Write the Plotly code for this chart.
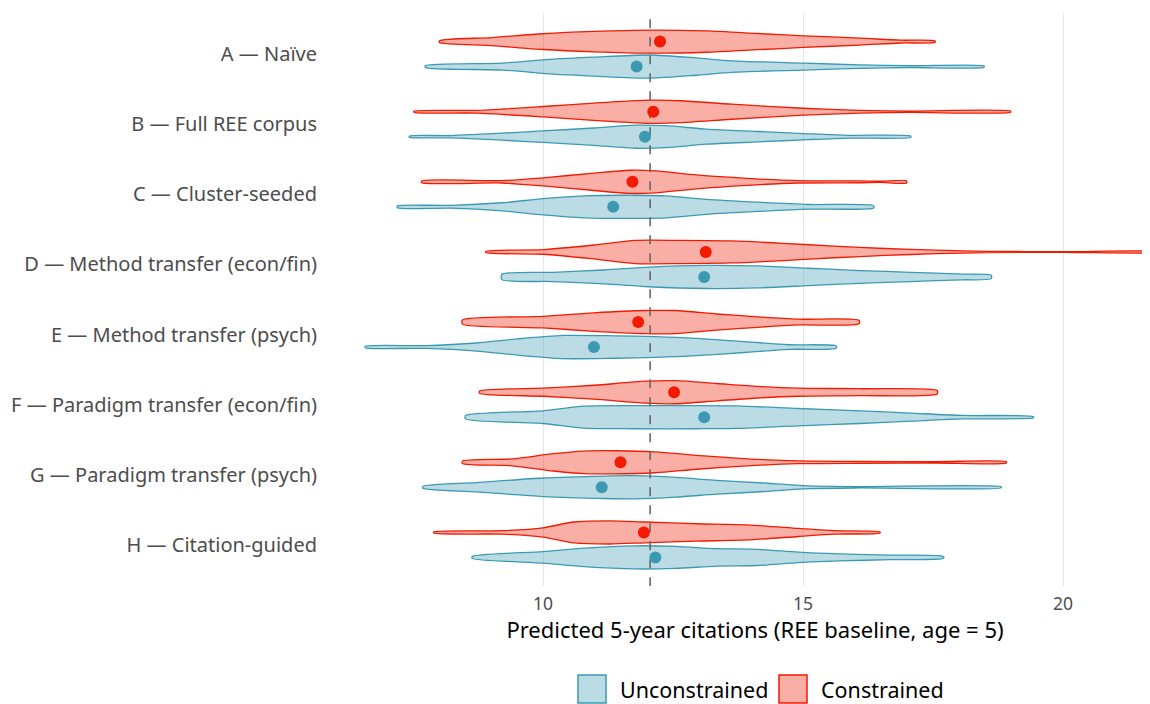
import plotly.graph_objects as go

categories = ["A — Naïve", "B — Full REE corpus", "C — Cluster-seeded",
              "D — Method transfer (econ/fin)", "E — Method transfer (psych)",
              "F — Paradigm transfer (econ/fin)", "G — Paradigm transfer (psych)",
              "H — Citation-guided"]

ree_baseline = 12.06

con_center = [12.25, 12.12, 11.72, 13.13, 11.83, 12.52, 11.49, 11.94]
unc_center = [11.80, 11.96, 11.35, 13.10, 10.98, 13.10, 11.13, 12.16]

# density profiles (x value, relative density)
con_x = {
    "A": [8.01, 9.02, 10.00, 10.98, 12.06, 13.14, 14.13, 15.01, 16.09, 16.88, 17.54],
    "B": [7.52, 8.72, 10.00, 10.98, 12.06, 12.65, 13.63, 15.01, 16.09, 17.07, 18.99],
    "C": [7.67, 9.21, 10.00, 10.98, 11.67, 12.16, 12.95, 13.93, 14.91, 16.09, 16.48, 16.99],
    "D": [8.90, 10.00, 10.98, 11.77, 12.65, 13.63, 14.62, 15.60, 16.58, 17.56, 18.55, 20.02, 21.90],
    "E": [8.45, 10.00, 10.98, 11.96, 12.55, 13.34, 14.13, 14.91, 16.08],
    "F": [8.78, 10.00, 10.98, 11.96, 12.55, 13.34, 14.13, 14.91, 16.09, 17.58],
    "G": [8.45, 9.41, 10.20, 10.79, 11.38, 12.16, 12.95, 13.93, 14.91, 16.09, 17.56, 18.91],
    "H": [7.90, 9.21, 10.00, 10.59, 11.28, 11.96, 12.95, 13.93, 14.91, 15.60, 16.48],
}
con_d = {
    "A": [0.08, 0.35, 0.68, 0.88, 1.0, 0.92, 0.7, 0.5, 0.3, 0.12, 0.06],
    "B": [0.05, 0.12, 0.45, 0.75, 1.0, 0.95, 0.65, 0.3, 0.12, 0.06, 0.05],
    "C": [0.08, 0.1, 0.35, 0.75, 1.0, 0.95, 0.6, 0.3, 0.1, 0.08, 0.05, 0.1],
    "D": [0.05, 0.2, 0.6, 1.0, 1.0, 0.95, 0.75, 0.5, 0.3, 0.15, 0.05, 0.03, 0.03],
    "E": [0.18, 0.5, 0.8, 1.0, 1.0, 0.7, 0.45, 0.25, 0.15],
    "F": [0.1, 0.35, 0.6, 0.95, 1.0, 0.75, 0.5, 0.35, 0.3, 0.15],
    "G": [0.1, 0.3, 0.75, 0.97, 1.0, 0.9, 0.6, 0.3, 0.12, 0.08, 0.06, 0.06],
    "H": [0.05, 0.15, 0.4, 0.9, 1.0, 0.9, 0.75, 0.65, 0.35, 0.15, 0.05],
}
unc_x = {
    "A": [7.74, 9.21, 10.20, 10.98, 12.06, 12.95, 13.63, 15.01, 16.09, 17.07, 18.48],
    "B": [7.43, 8.23, 9.21, 10.00, 10.98, 11.77, 12.36, 13.14, 14.13, 15.11, 15.89, 17.07],
    "C": [7.20, 8.23, 9.21, 10.00, 10.79, 11.57, 12.36, 13.14, 14.13, 15.11, 16.36],
    "D": [9.21, 10.20, 11.18, 12.04, 13.14, 14.13, 15.11, 16.09, 17.07, 18.06, 18.62],
    "E": [6.58, 7.74, 8.72, 9.51, 10.39, 11.38, 12.16, 12.95, 13.93, 14.72, 15.64],
    "F": [8.51, 10.00, 10.79, 11.77, 12.95, 13.73, 14.91, 16.09, 17.07, 18.06, 19.43],
    "G": [7.69, 8.72, 10.00, 11.18, 11.77, 12.55, 13.34, 14.32, 15.11, 16.09, 18.81],
    "H": [8.64, 10.00, 10.79, 11.77, 12.55, 13.34, 14.13, 14.91, 15.70, 16.68, 17.70],
}
unc_d = {
    "A": [0.08, 0.3, 0.65, 0.82, 1.0, 0.75, 0.5, 0.3, 0.15, 0.08, 0.06],
    "B": [0.05, 0.1, 0.3, 0.5, 0.75, 1.0, 0.95, 0.65, 0.45, 0.25, 0.12, 0.06],
    "C": [0.08, 0.12, 0.35, 0.7, 0.95, 1.0, 0.95, 0.65, 0.4, 0.2, 0.1],
    "D": [0.23, 0.4, 0.6, 0.85, 1.0, 0.95, 0.75, 0.55, 0.4, 0.25, 0.15],
    "E": [0.06, 0.12, 0.35, 0.7, 1.0, 0.97, 0.9, 0.75, 0.45, 0.2, 0.1],
    "F": [0.15, 0.55, 0.95, 1.0, 1.0, 0.97, 0.75, 0.55, 0.35, 0.15, 0.05],
    "G": [0.08, 0.4, 0.8, 0.97, 1.0, 0.85, 0.6, 0.35, 0.12, 0.06, 0.05],
    "H": [0.08, 0.5, 0.8, 1.0, 0.95, 0.75, 0.7, 0.45, 0.3, 0.2, 0.08],
}

x_ticks = [10, 15, 20]
legend_names = ["Unconstrained", "Constrained"]

BLUE = "#3B9AB2"
RED = "#F21A00"
BLUE_FILL = "rgba(59,154,178,0.35)"
RED_FILL = "rgba(242,26,0,0.35)"

HALF = 0.165   # max half-width of a violin (category units)
DODGE = 0.178  # vertical offset of the two groups

# the page body has an 8px margin, so the figure is sized/offset for it
OFF = 8
W, H = 1150 - OFF, 704 - OFF
ML, MR, MT, MB = 360 - OFF, 0, 13 - OFF, 118
PW, PH = W - ML - MR, H - MT - MB
X10 = 543 - OFF   # pixel of x = 10 inside the figure
PX_PER_UNIT = 52

n = len(categories)
ypos = [n - i for i in range(n)]
keys = [c[0] for c in categories]

fig = go.Figure()

def add_violin(xs, ds, yc, line_col, fill_col, name):
    top = [yc + HALF * d for d in ds]
    bot = [yc - HALF * d for d in ds]
    px = list(xs) + list(reversed(xs)) + [xs[0]]
    py = top + list(reversed(bot)) + [top[0]]
    fig.add_trace(go.Scatter(
        x=px, y=py, mode="lines", fill="toself", fillcolor=fill_col,
        line=dict(color=line_col, width=1.3, shape="spline", smoothing=0.7),
        name=name, showlegend=False, hoverinfo="skip"))

for i, k in enumerate(keys):
    add_violin(unc_x[k], unc_d[k], ypos[i] - DODGE, BLUE, BLUE_FILL, legend_names[0])
for i, k in enumerate(keys):
    add_violin(con_x[k], con_d[k], ypos[i] + DODGE, RED, RED_FILL, legend_names[1])

fig.add_trace(go.Scatter(
    x=[ree_baseline, ree_baseline], y=[0.41, 8.59], mode="lines",
    line=dict(color="#666666", width=1.6, dash="dash"), showlegend=False, hoverinfo="skip"))

fig.add_trace(go.Scatter(
    x=unc_center, y=[y - DODGE for y in ypos], mode="markers",
    marker=dict(color=BLUE, size=12), showlegend=False))
fig.add_trace(go.Scatter(
    x=con_center, y=[y + DODGE for y in ypos], mode="markers",
    marker=dict(color=RED, size=12), showlegend=False))

# manual legend (square keys like the reference)
def px2paper_x(p):
    return (p - OFF - ML) / PW

def px2paper_y(p):
    return (H - MB - (p - OFF)) / PH

shapes, annotations = [], []
legend_items = [(legend_names[0], BLUE, BLUE_FILL, 578), (legend_names[1], RED, RED_FILL, 779)]
for name, lc, fc, x0 in legend_items:
    shapes.append(dict(type="rect", xref="paper", yref="paper",
                       x0=px2paper_x(x0), x1=px2paper_x(x0 + 28),
                       y0=px2paper_y(703), y1=px2paper_y(675),
                       line=dict(color=lc, width=1.5), fillcolor=fc))
    annotations.append(dict(text=name, xref="paper", yref="paper",
                            x=px2paper_x(x0 + 40), y=px2paper_y(689),
                            xanchor="left", yanchor="middle", showarrow=False,
                            font=dict(size=21.5, color="#000000")))

fig.update_layout(
    width=W, height=H,
    margin=dict(l=ML, r=MR, t=MT, b=MB, autoexpand=False),
    plot_bgcolor="white", paper_bgcolor="white",
    font=dict(family="Noto Sans", size=18, color="#000000"),
    showlegend=False, shapes=shapes, annotations=annotations,
)
fig.update_xaxes(
    range=[10 - (X10 - ML) / PX_PER_UNIT, 10 + (W - MR - X10) / PX_PER_UNIT], tickvals=x_ticks,
    showgrid=True, gridcolor="#E6E6E6", gridwidth=1.2, zeroline=False,
    showline=False, ticks="", ticklabelstandoff=5, automargin=False,
    tickfont=dict(size=17.5, color="#4D4D4D"),
    title=dict(text="Predicted 5-year citations (REE baseline, age = 5)", standoff=4,
               font=dict(size=22, color="#000000")))
fig.update_yaxes(
    range=[0.414, 8.586], tickvals=ypos, ticktext=categories,
    showgrid=False, zeroline=False, showline=False, ticks="", automargin=False,
    ticklabelstandoff=42, tickfont=dict(size=20, color="#4D4D4D"))

fig.write_html("out.html")
